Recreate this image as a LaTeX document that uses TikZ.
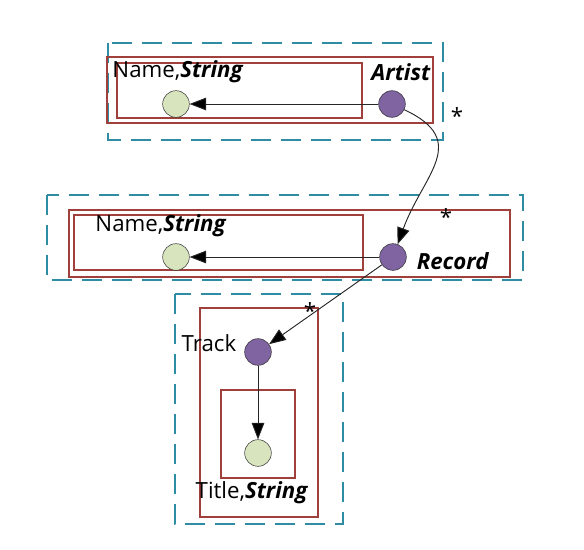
\documentclass[tikz,border=0pt]{standalone}
\usepackage{fontspec}
\setmainfont{Open Sans}
\usetikzlibrary{arrows.meta}
\definecolor{boxred}{HTML}{A0403C}
\definecolor{dashteal}{HTML}{2E8CA3}
\definecolor{objpurple}{HTML}{8064A2}
\definecolor{valgreen}{HTML}{D7E4BD}

\begin{document}
\begin{tikzpicture}
  [x=0.03cm,y=-0.03cm,
   obj/.style={circle,draw=black!85,fill=objpurple,minimum size=0.8cm,inner sep=0pt},
   val/.style={circle,draw=black!85,fill=valgreen,minimum size=0.8cm,inner sep=0pt},
   lbl/.style={font=\fontsize{19}{21}\selectfont,inner sep=0pt},
   redbox/.style={draw=boxred,line width=2.5pt},
   group/.style={draw=dashteal,line width=2.5pt,dash pattern=on 0.6cm off 0.3cm},
   link/.style={draw=black!85,line width=0.8pt,-{Triangle[length=5mm,width=3.8mm,fill=black]}}]

  \useasboundingbox (0,0) rectangle (584,549);

  % Artist
  \draw[group] (108,43) rectangle (443,140);
  \draw[redbox] (107,57) rectangle (433,123);
  \draw[redbox] (117,63) rectangle (362,118);
  \node[obj] (artist) at (392,104) {};
  \node[val] (aname) at (176,104) {};
  \node[lbl] (aname lbl) at (178,72) {Name,\textbf{\textit{String}}};
  \node[lbl] (artist lbl) at (401,72) {\textbf{\textit{Artist}}};
  \node[lbl] (star1) at (457,116) {*};

  % Record
  \draw[group] (47,195) rectangle (523,280);
  \draw[redbox] (69,210) rectangle (510,277);
  \draw[redbox] (74,215) rectangle (363,270);
  \node[obj] (record) at (393,257) {};
  \node[val] (rname) at (176,257) {};
  \node[lbl] (rname lbl) at (161,226) {Name,\textbf{\textit{String}}};
  \node[lbl] (record lbl) at (453,261) {\textbf{\textit{Record}}};
  \node[lbl] (star2) at (446,217) {*};

  % Track
  \draw[group] (175,294) rectangle (343,524);
  \draw[redbox] (200,308) rectangle (318,517);
  \draw[redbox] (221,390) rectangle (295,478);
  \node[obj] (track) at (258,352) {};
  \node[val] (title) at (258,453) {};
  \node[lbl] (track lbl) at (209,343) {Track};
  \node[lbl] (title lbl) at (252,493) {Title,\textbf{\textit{String}}};
  \node[lbl] (star3) at (310,311) {*};

  \draw[link] (artist) -- (aname);
  \draw[link] (record) -- (rname);
  \draw[link] (track) -- (title);
  \draw[link] (artist) to[out=-25,in=70,looseness=1.4] (record);
  \draw[link] (record) -- (track);
\end{tikzpicture}
\end{document}
